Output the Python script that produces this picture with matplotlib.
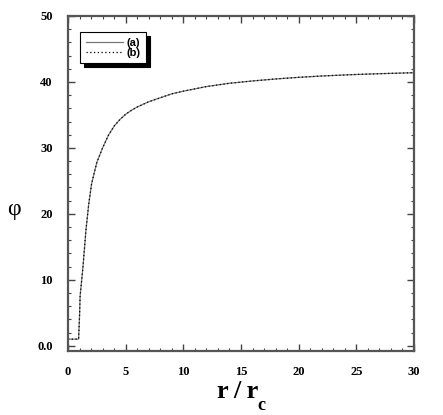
import matplotlib
matplotlib.use("Agg")
import matplotlib.pyplot as plt
from matplotlib.ticker import MultipleLocator

# values
r = [0.0, 0.92, 1.0, 1.05, 1.3, 1.56, 1.8, 2.05, 2.5, 3.0, 3.5, 4.0, 4.5,
     5.0, 5.5, 6.0, 7.0, 8.0, 9.0, 10.0, 12.0, 14.0, 16.0, 18.0, 20.0,
     22.0, 24.5, 27.0, 29.0, 30.0]
phi_a = [1.0, 1.0, 4.5, 7.5, 12.0, 17.6, 21.5, 24.6, 27.8, 30.0, 31.9, 33.3,
         34.3, 35.1, 35.7, 36.2, 37.0, 37.6, 38.2, 38.6, 39.3, 39.8, 40.15,
         40.45, 40.7, 40.9, 41.1, 41.25, 41.35, 41.4]
phi_b = [1.0, 1.0, 4.5, 7.5, 12.0, 17.6, 21.5, 24.6, 27.8, 30.0, 31.9, 33.3,
         34.3, 35.1, 35.7, 36.2, 37.0, 37.6, 38.2, 38.6, 39.3, 39.8, 40.15,
         40.45, 40.7, 40.9, 41.1, 41.25, 41.35, 41.4]
labels = ["(a)", "(b)"]
yticks = [0, 10, 20, 30, 40, 50]
yticklabels = ["0.0", "10", "20", "30", "40", "50"]

fig = plt.figure(figsize=(4.43, 4.15), dpi=100)
ax = fig.add_axes([68 / 443, 1 - 351 / 415, 346 / 443, 335 / 415])

ax.plot(r, phi_a, color="#777777", lw=0.9, label=labels[0])
ax.plot(r, phi_b, color="black", lw=0.9, ls=(0, (1, 2)), label=labels[1])

ax.set_xlim(0, 30)
ax.set_ylim(-0.8, 50)
ax.xaxis.set_major_locator(MultipleLocator(5))
ax.xaxis.set_minor_locator(MultipleLocator(1))
ax.set_yticks(yticks)
ax.set_yticklabels(yticklabels)
ax.yaxis.set_minor_locator(MultipleLocator(2))

ax.tick_params(which="both", direction="in", top=True, right=True,
               color="#444444", labelsize=9, pad=11)
ax.tick_params(which="major", length=5, width=1)
ax.tick_params(which="minor", length=2.5, width=0.8)
for lab in ax.get_xticklabels() + ax.get_yticklabels():
    lab.set_fontfamily("Liberation Serif")
    lab.set_fontweight("bold")
for sp in ax.spines.values():
    sp.set_linewidth(1.6)
    sp.set_color("#555555")

leg = ax.legend(loc="upper left", bbox_to_anchor=(0.035, 0.952),
                borderaxespad=0, fancybox=False, framealpha=1,
                edgecolor="black", handlelength=3.4, handletextpad=0.3,
                labelspacing=0.0, borderpad=0.5,
                shadow={"color": "black", "alpha": 1, "ox": 3, "oy": -3},
                prop={"family": "Liberation Sans", "weight": "bold", "size": 8})
leg.get_frame().set_linewidth(0.8)

fig.text(14 / 443, 1 - 210 / 415, "φ", family="Liberation Serif",
         fontsize=17, ha="center", va="center")
fig.text(238 / 443, 1 - 398 / 415, "r\u2009/\u2009r", family="Liberation Serif",
         weight="bold", fontsize=19, ha="center", va="baseline")
fig.text(261.5 / 443, 1 - 410 / 415, "c", family="Liberation Serif",
         weight="bold", fontsize=13, ha="center", va="baseline")

fig.savefig("out.png", dpi=100)
